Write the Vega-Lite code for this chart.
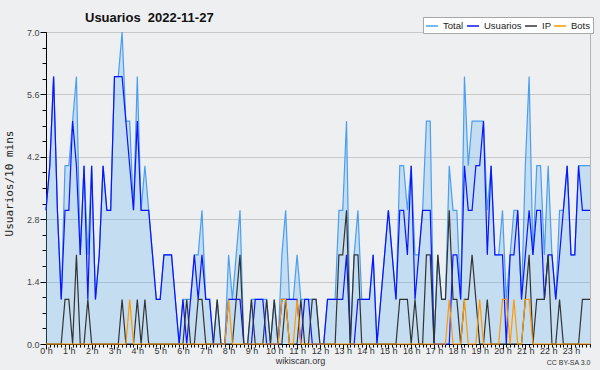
{
"$schema":"https://vega.github.io/schema/vega-lite/v6.json",
"width":544,"height":312,
"autosize":"none",
"padding":{"left":46,"top":32,"right":10,"bottom":26},
"background":"#eeeff1",
"config":{"view":{"stroke":"#b4b4b4","strokeWidth":1},"font":"Liberation Sans"},
"title":{"text":"Usuarios\u00a0\u00a02022-11-27","anchor":"start","frame":"group","dx":39,"dy":18,"offset":10,"font":"Liberation Sans","fontSize":13,"fontWeight":"bold","color":"#111111"},
"data":{"values":[
{"t":0,"Total":3,"Usuarios":3,"IP":0,"Bots":0},
{"t":10,"Total":4,"Usuarios":4,"IP":0,"Bots":0},
{"t":20,"Total":6,"Usuarios":6,"IP":0,"Bots":0},
{"t":30,"Total":3,"Usuarios":3,"IP":0,"Bots":0},
{"t":40,"Total":1,"Usuarios":1,"IP":0,"Bots":0},
{"t":50,"Total":4,"Usuarios":3,"IP":1,"Bots":0},
{"t":60,"Total":4,"Usuarios":3,"IP":1,"Bots":0},
{"t":70,"Total":5,"Usuarios":5,"IP":0,"Bots":0},
{"t":80,"Total":6,"Usuarios":4,"IP":2,"Bots":0},
{"t":90,"Total":2,"Usuarios":2,"IP":0,"Bots":0},
{"t":100,"Total":4,"Usuarios":4,"IP":0,"Bots":0},
{"t":110,"Total":2,"Usuarios":1,"IP":1,"Bots":0},
{"t":120,"Total":4,"Usuarios":4,"IP":0,"Bots":0},
{"t":130,"Total":1,"Usuarios":1,"IP":0,"Bots":0},
{"t":140,"Total":2,"Usuarios":2,"IP":0,"Bots":0},
{"t":150,"Total":4,"Usuarios":4,"IP":0,"Bots":0},
{"t":160,"Total":3,"Usuarios":3,"IP":0,"Bots":0},
{"t":170,"Total":3,"Usuarios":3,"IP":0,"Bots":0},
{"t":180,"Total":6,"Usuarios":6,"IP":0,"Bots":0},
{"t":190,"Total":6,"Usuarios":6,"IP":0,"Bots":0},
{"t":200,"Total":7,"Usuarios":6,"IP":1,"Bots":0},
{"t":210,"Total":5,"Usuarios":5,"IP":0,"Bots":0},
{"t":220,"Total":5,"Usuarios":4,"IP":0,"Bots":1},
{"t":230,"Total":3,"Usuarios":3,"IP":0,"Bots":0},
{"t":240,"Total":6,"Usuarios":5,"IP":1,"Bots":0},
{"t":250,"Total":3,"Usuarios":3,"IP":0,"Bots":0},
{"t":260,"Total":4,"Usuarios":3,"IP":1,"Bots":0},
{"t":270,"Total":3,"Usuarios":3,"IP":0,"Bots":0},
{"t":280,"Total":2,"Usuarios":2,"IP":0,"Bots":0},
{"t":290,"Total":1,"Usuarios":1,"IP":0,"Bots":0},
{"t":300,"Total":1,"Usuarios":1,"IP":0,"Bots":0},
{"t":310,"Total":2,"Usuarios":2,"IP":0,"Bots":0},
{"t":320,"Total":2,"Usuarios":2,"IP":0,"Bots":0},
{"t":330,"Total":2,"Usuarios":2,"IP":0,"Bots":0},
{"t":340,"Total":1,"Usuarios":1,"IP":0,"Bots":0},
{"t":350,"Total":0,"Usuarios":0,"IP":0,"Bots":0},
{"t":360,"Total":1,"Usuarios":1,"IP":0,"Bots":0},
{"t":370,"Total":1,"Usuarios":0,"IP":1,"Bots":0},
{"t":380,"Total":1,"Usuarios":1,"IP":0,"Bots":0},
{"t":390,"Total":2,"Usuarios":2,"IP":0,"Bots":0},
{"t":400,"Total":2,"Usuarios":1,"IP":1,"Bots":0},
{"t":410,"Total":3,"Usuarios":2,"IP":1,"Bots":0},
{"t":420,"Total":1,"Usuarios":1,"IP":0,"Bots":0},
{"t":430,"Total":1,"Usuarios":1,"IP":0,"Bots":0},
{"t":440,"Total":0,"Usuarios":0,"IP":0,"Bots":0},
{"t":450,"Total":1,"Usuarios":0,"IP":1,"Bots":0},
{"t":460,"Total":0,"Usuarios":0,"IP":0,"Bots":0},
{"t":470,"Total":0,"Usuarios":0,"IP":0,"Bots":0},
{"t":480,"Total":2,"Usuarios":1,"IP":0,"Bots":1},
{"t":490,"Total":1,"Usuarios":1,"IP":0,"Bots":0},
{"t":500,"Total":2,"Usuarios":1,"IP":1,"Bots":0},
{"t":510,"Total":3,"Usuarios":1,"IP":2,"Bots":0},
{"t":520,"Total":0,"Usuarios":0,"IP":0,"Bots":0},
{"t":530,"Total":0,"Usuarios":0,"IP":0,"Bots":0},
{"t":540,"Total":1,"Usuarios":0,"IP":1,"Bots":0},
{"t":550,"Total":1,"Usuarios":1,"IP":0,"Bots":0},
{"t":560,"Total":1,"Usuarios":1,"IP":0,"Bots":0},
{"t":570,"Total":1,"Usuarios":1,"IP":0,"Bots":0},
{"t":580,"Total":1,"Usuarios":0,"IP":1,"Bots":0},
{"t":590,"Total":0,"Usuarios":0,"IP":0,"Bots":0},
{"t":600,"Total":1,"Usuarios":0,"IP":1,"Bots":0},
{"t":610,"Total":0,"Usuarios":0,"IP":0,"Bots":0},
{"t":620,"Total":2,"Usuarios":1,"IP":0,"Bots":1},
{"t":630,"Total":3,"Usuarios":1,"IP":1,"Bots":1},
{"t":640,"Total":1,"Usuarios":1,"IP":0,"Bots":0},
{"t":650,"Total":1,"Usuarios":1,"IP":0,"Bots":0},
{"t":660,"Total":2,"Usuarios":1,"IP":0,"Bots":1},
{"t":670,"Total":1,"Usuarios":0,"IP":1,"Bots":0},
{"t":680,"Total":1,"Usuarios":1,"IP":0,"Bots":0},
{"t":690,"Total":1,"Usuarios":1,"IP":0,"Bots":0},
{"t":700,"Total":1,"Usuarios":0,"IP":1,"Bots":0},
{"t":710,"Total":1,"Usuarios":0,"IP":1,"Bots":0},
{"t":720,"Total":0,"Usuarios":0,"IP":0,"Bots":0},
{"t":730,"Total":0,"Usuarios":0,"IP":0,"Bots":0},
{"t":740,"Total":1,"Usuarios":1,"IP":0,"Bots":0},
{"t":750,"Total":1,"Usuarios":1,"IP":0,"Bots":0},
{"t":760,"Total":1,"Usuarios":1,"IP":0,"Bots":0},
{"t":770,"Total":3,"Usuarios":1,"IP":2,"Bots":0},
{"t":780,"Total":3,"Usuarios":1,"IP":2,"Bots":0},
{"t":790,"Total":5,"Usuarios":2,"IP":3,"Bots":0},
{"t":800,"Total":0,"Usuarios":0,"IP":0,"Bots":0},
{"t":810,"Total":2,"Usuarios":0,"IP":2,"Bots":0},
{"t":820,"Total":3,"Usuarios":1,"IP":2,"Bots":0},
{"t":830,"Total":1,"Usuarios":1,"IP":0,"Bots":0},
{"t":840,"Total":1,"Usuarios":1,"IP":0,"Bots":0},
{"t":850,"Total":1,"Usuarios":1,"IP":0,"Bots":0},
{"t":860,"Total":2,"Usuarios":2,"IP":0,"Bots":0},
{"t":870,"Total":0,"Usuarios":0,"IP":0,"Bots":0},
{"t":880,"Total":1,"Usuarios":1,"IP":0,"Bots":0},
{"t":890,"Total":2,"Usuarios":2,"IP":0,"Bots":0},
{"t":900,"Total":3,"Usuarios":3,"IP":0,"Bots":0},
{"t":910,"Total":2,"Usuarios":2,"IP":0,"Bots":0},
{"t":920,"Total":1,"Usuarios":1,"IP":0,"Bots":0},
{"t":930,"Total":4,"Usuarios":3,"IP":1,"Bots":0},
{"t":940,"Total":4,"Usuarios":3,"IP":1,"Bots":0},
{"t":950,"Total":3,"Usuarios":2,"IP":1,"Bots":0},
{"t":960,"Total":4,"Usuarios":4,"IP":0,"Bots":0},
{"t":970,"Total":2,"Usuarios":1,"IP":1,"Bots":0},
{"t":980,"Total":2,"Usuarios":2,"IP":0,"Bots":0},
{"t":990,"Total":3,"Usuarios":3,"IP":0,"Bots":0},
{"t":1000,"Total":5,"Usuarios":3,"IP":2,"Bots":0},
{"t":1010,"Total":5,"Usuarios":3,"IP":2,"Bots":0},
{"t":1020,"Total":0,"Usuarios":0,"IP":0,"Bots":0},
{"t":1030,"Total":2,"Usuarios":0,"IP":2,"Bots":0},
{"t":1040,"Total":1,"Usuarios":0,"IP":1,"Bots":0},
{"t":1050,"Total":1,"Usuarios":0,"IP":1,"Bots":0},
{"t":1060,"Total":4,"Usuarios":0,"IP":3,"Bots":1},
{"t":1070,"Total":3,"Usuarios":2,"IP":1,"Bots":0},
{"t":1080,"Total":3,"Usuarios":2,"IP":1,"Bots":0},
{"t":1090,"Total":1,"Usuarios":1,"IP":0,"Bots":0},
{"t":1100,"Total":6,"Usuarios":4,"IP":1,"Bots":1},
{"t":1110,"Total":4,"Usuarios":3,"IP":1,"Bots":0},
{"t":1120,"Total":5,"Usuarios":3,"IP":2,"Bots":0},
{"t":1130,"Total":5,"Usuarios":4,"IP":1,"Bots":0},
{"t":1140,"Total":5,"Usuarios":4,"IP":0,"Bots":1},
{"t":1150,"Total":5,"Usuarios":5,"IP":0,"Bots":0},
{"t":1160,"Total":3,"Usuarios":2,"IP":1,"Bots":0},
{"t":1170,"Total":4,"Usuarios":4,"IP":0,"Bots":0},
{"t":1180,"Total":2,"Usuarios":2,"IP":0,"Bots":0},
{"t":1190,"Total":2,"Usuarios":2,"IP":0,"Bots":0},
{"t":1200,"Total":3,"Usuarios":2,"IP":0,"Bots":1},
{"t":1210,"Total":1,"Usuarios":0,"IP":0,"Bots":1},
{"t":1220,"Total":2,"Usuarios":2,"IP":0,"Bots":0},
{"t":1230,"Total":3,"Usuarios":2,"IP":0,"Bots":1},
{"t":1240,"Total":3,"Usuarios":3,"IP":0,"Bots":0},
{"t":1250,"Total":1,"Usuarios":1,"IP":0,"Bots":0},
{"t":1260,"Total":4,"Usuarios":2,"IP":1,"Bots":1},
{"t":1270,"Total":6,"Usuarios":3,"IP":2,"Bots":1},
{"t":1280,"Total":2,"Usuarios":2,"IP":0,"Bots":0},
{"t":1290,"Total":4,"Usuarios":3,"IP":1,"Bots":0},
{"t":1300,"Total":4,"Usuarios":3,"IP":1,"Bots":0},
{"t":1310,"Total":2,"Usuarios":1,"IP":1,"Bots":0},
{"t":1320,"Total":4,"Usuarios":2,"IP":2,"Bots":0},
{"t":1330,"Total":2,"Usuarios":2,"IP":0,"Bots":0},
{"t":1340,"Total":1,"Usuarios":1,"IP":0,"Bots":0},
{"t":1350,"Total":3,"Usuarios":2,"IP":1,"Bots":0},
{"t":1360,"Total":3,"Usuarios":3,"IP":0,"Bots":0},
{"t":1370,"Total":4,"Usuarios":4,"IP":0,"Bots":0},
{"t":1380,"Total":2,"Usuarios":2,"IP":0,"Bots":0},
{"t":1390,"Total":2,"Usuarios":2,"IP":0,"Bots":0},
{"t":1400,"Total":4,"Usuarios":4,"IP":0,"Bots":0},
{"t":1410,"Total":4,"Usuarios":3,"IP":1,"Bots":0},
{"t":1420,"Total":4,"Usuarios":3,"IP":1,"Bots":0},
{"t":1430,"Total":4,"Usuarios":3,"IP":1,"Bots":0}
]},
"layer":[
{"mark":{"type":"area","color":"#65b3f1","fillOpacity":0.3},
 "encoding":{
  "x":{"field":"t","type":"quantitative","scale":{"domain":[0,1430],"nice":false,"zero":false},
   "axis":{"orient":"bottom","values":[0,60,120,180,240,300,360,420,480,540,600,660,720,780,840,900,960,1020,1080,1140,1200,1260,1320,1380],"labelExpr":"floor(datum.value/60) + ' h'","labelFont":"Liberation Sans","labelFontSize":9,"labelColor":"#333333","labelPadding":-3,"labelFlush":false,"labelOverlap":false,"tickSize":5,"tickColor":"#000000","domainColor":"#000000","grid":false,
    "title":"wikiscan.org","titleFont":"Liberation Sans","titleFontSize":9,"titleFontWeight":"normal","titleColor":"#333333","titleX":254,"titleY":19,"titleAlign":"center","titleBaseline":"alphabetic"}},
  "y":{"field":"Total","type":"quantitative","scale":{"domain":[0,7],"nice":false},
   "axis":{"orient":"left","values":[0,1.4,2.8,4.2,5.6,7],"format":".1f","grid":true,"gridColor":"#c8c8c8","tickSize":6,"tickColor":"#000000","domainColor":"#000000","labelFont":"Liberation Sans","labelFontSize":9,"labelColor":"#444444","labelPadding":1,
    "title":"Usuarios/10 mins","titleFont":"DejaVu Sans Mono","titleFontSize":11,"titleFontWeight":"normal","titleColor":"#222222","titleX":-37,"titleY":151,"titleAngle":270,"titleAlign":"center","titleBaseline":"middle"}}
 }},
{"transform":[{"fold":["Total","Usuarios","IP","Bots"],"as":["serie","valor"]}],
 "mark":{"type":"line","strokeWidth":1.2},
 "encoding":{
  "x":{"field":"t","type":"quantitative",
   "axis":{"orient":"bottom","tickCount":144,"labels":false,"tickSize":3,"tickColor":"#000000","domain":false,"grid":false,
    "title":"CC BY-SA 3.0","titleFont":"Liberation Sans","titleFontSize":7,"titleFontWeight":"normal","titleColor":"#333333","titleX":544,"titleY":20,"titleAlign":"right","titleBaseline":"alphabetic"}},
  "y":{"field":"valor","type":"quantitative",
   "axis":{"orient":"left","values":[0,0.35,0.7,1.05,1.4,1.75,2.1,2.45,2.8,3.15,3.5,3.85,4.2,4.55,4.9,5.25,5.6,5.95,6.3,6.65,7],"labels":false,"tickSize":4,"tickColor":"#000000","domain":false,"grid":false,"title":null}},
  "color":{"field":"serie","type":"nominal",
   "scale":{"domain":["Total","Usuarios","IP","Bots"],"range":["#4a9ff0","#0a14ff","#333333","#ff9900"]},
   "legend":{"orient":"none","legendX":377,"legendY":-15,"direction":"horizontal","columns":4,"gridAlign":"none","title":null,"fillColor":"#ffffff","strokeColor":"#a8a8a8","padding":2,"symbolType":"stroke","symbolSize":144,"symbolStrokeWidth":1.5,"labelFont":"Liberation Sans","labelFontSize":9.5,"labelColor":"#222222","labelOffset":4,"columnPadding":0}}
 }}
],
"resolve":{"axis":{"x":"independent","y":"independent"}}
}
